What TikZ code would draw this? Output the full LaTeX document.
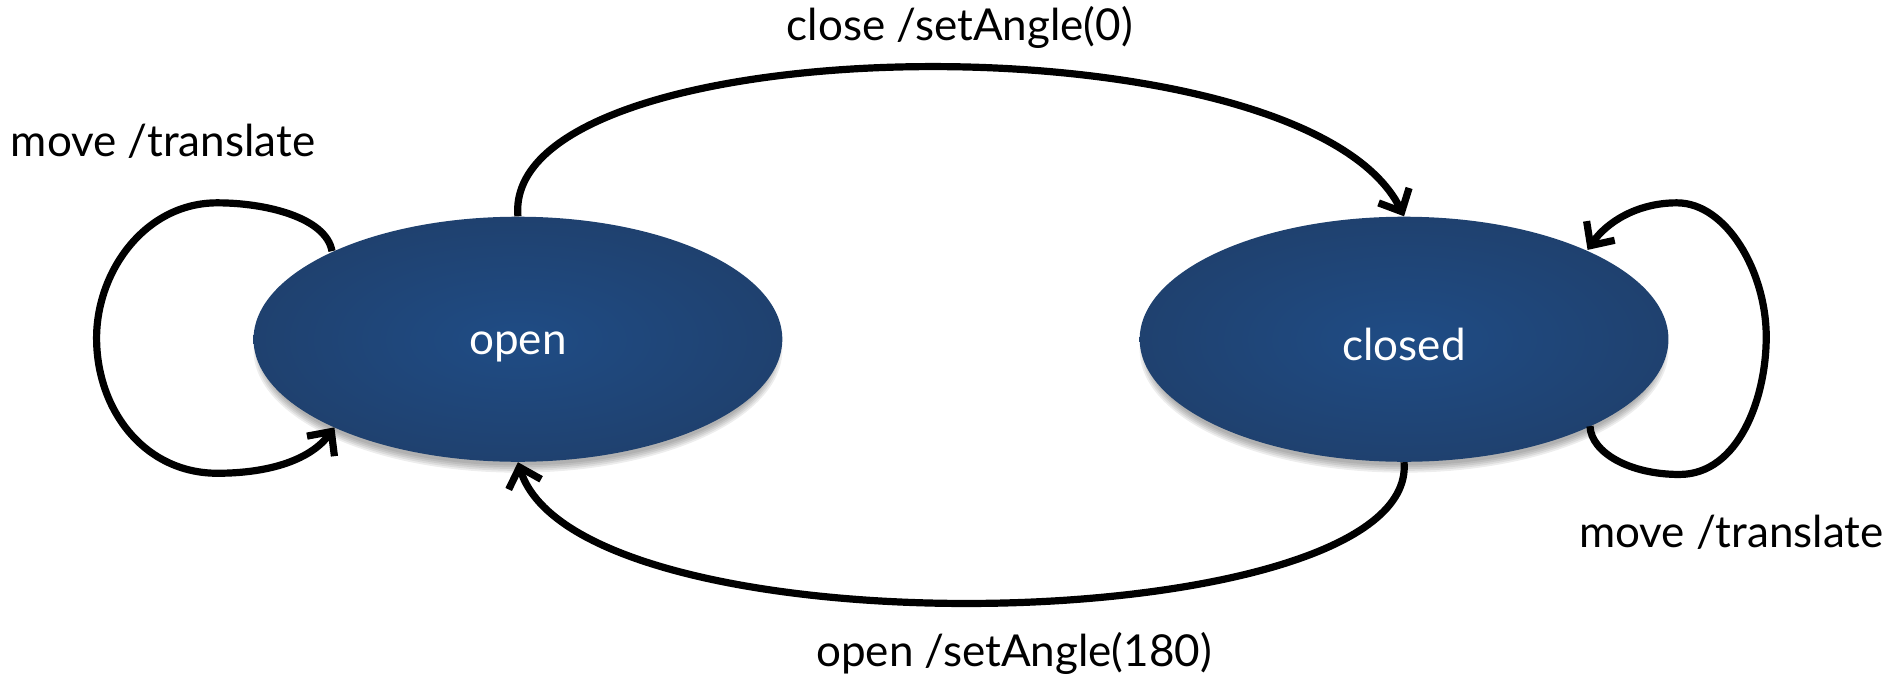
\documentclass[tikz,border=0pt]{standalone}
\usepackage{fontspec}
\setmainfont{Lato}
\usetikzlibrary{shapes.geometric,arrows.meta}
\definecolor{stateblue}{HTML}{1F4C85}
\definecolor{stateedge}{HTML}{1F416F}
\tikzset{
  state/.style={ellipse, minimum width=438*0.6036pt, minimum height=203*0.6036pt,
    inner sep=0pt, draw=none, shading=radial, inner color=stateblue, outer color=stateedge,
    text=white, font=\fontsize{22}{26}\selectfont},
  shade/.style={ellipse, inner sep=0pt, draw=none, fill=black, fill opacity=0.07},
  lbl/.style={font=\fontsize{22}{26}\selectfont, inner sep=0pt},
  trans/.style={line width=3.6pt, -{Straight Barb[length=9pt,width=17pt,line width=3.6pt]}},
}
\begin{document}
\begin{tikzpicture}[x=0.6036pt,y=-0.6036pt]
\useasboundingbox (0,0) rectangle (1568,560);
% soft shadows
\foreach \d in {0,3,6,9,12} {
  \node[shade, minimum width=438*0.6036pt-\d*0.6036pt, minimum height=203*0.6036pt-\d*0.6036pt] (sho\d) at (429,290) {};
  \node[shade, minimum width=438*0.6036pt-\d*0.6036pt, minimum height=203*0.6036pt-\d*0.6036pt] (shc\d) at (1163,290) {};
}
\node[state] (open) at (429,281) {};
\node[state] (closed) at (1163,281) {};
\node[text=white, font=\fontsize{22}{26}\selectfont] (opent) at (429,287) {open};
\node[text=white, font=\fontsize{22}{26}\selectfont] (closedt) at (1163,285) {closed};

\node[lbl] (lclose) at (795,23) {close /setAngle(0)};
\node[lbl] (lmoveL) at (135,117) {move /translate};
\node[lbl] (lmoveR) at (1434,441) {move /translate};
\node[lbl] (lopen) at (840,541) {open /setAngle(180)};

% top arc
\draw[trans] (open.north) .. controls (415,20) and (1080,10) .. (closed.north);
% bottom arc
\draw[trans] (closed.south) .. controls (1175,530) and (480,545) .. (open.south);
% left self loop
\coordinate (lsA) at (275,208);
\coordinate (lsB) at (277,354);
\draw[trans] (lsA) .. controls (270,180) and (220,168) .. (180,168)
  .. controls (120,168) and (80,225) .. (80,280)
  .. controls (80,340) and (120,392) .. (180,392)
  .. controls (225,392) and (258,380) .. (lsB);
% right self loop
\coordinate (rsA) at (1317,353);
\coordinate (rsB) at (1315,207);
\draw[trans] (rsA) .. controls (1318,375) and (1350,393) .. (1391,393)
  .. controls (1440,393) and (1463,330) .. (1463,279)
  .. controls (1463,225) and (1430,168) .. (1389,168)
  .. controls (1355,168) and (1330,185) .. (rsB);
\end{tikzpicture}
\end{document}
